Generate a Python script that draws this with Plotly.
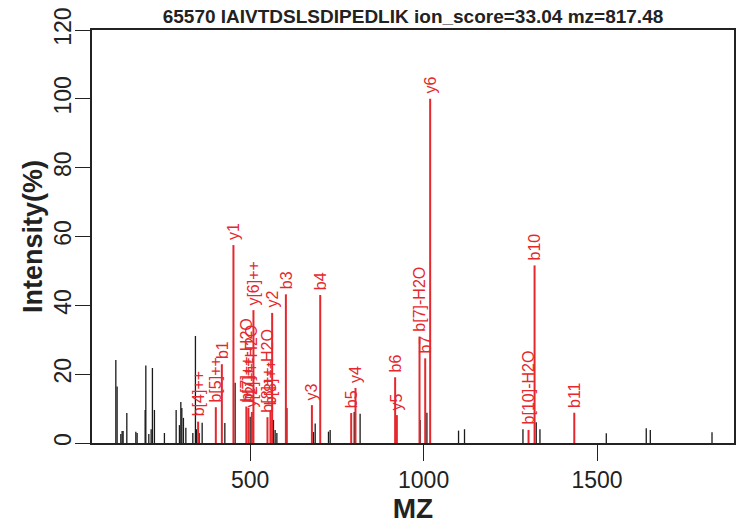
import plotly.graph_objects as go

# ---- data ----
title_text = "65570 IAIVTDSLSDIPEDLIK ion_score=33.04 mz=817.48"

black_mz = [112.7, 116.4, 127.1, 130.8, 133.7, 144.4, 170.4, 174.1, 197.2, 199.2,
            207.8, 214.5, 218.2, 224.0, 252.8, 286.6, 296.1, 300.1, 303.0, 307.6,
            314.6, 334.7, 342.2, 345.0, 352.9, 361.6, 427.0, 456.7, 500.0, 567.2,
            572.0, 577.0, 606.0, 682.6, 687.5, 725.8, 730.7, 800.0, 817.0, 990.0,
            1009.6, 1100.8, 1118.0, 1286.5, 1324.8, 1335.5, 1526.8, 1642.0,
            1653.7, 1831.6]
black_int = [24.1, 16.4, 2.6, 3.5, 3.5, 8.7, 3.3, 2.9, 9.6, 22.5,
             2.6, 4.0, 21.8, 9.6, 2.9, 9.6, 5.2, 11.9, 10.2, 7.3,
             4.4, 2.9, 31.1, 4.0, 2.9, 5.9, 5.8, 17.5, 7.6, 6.7,
             3.8, 2.9, 10.2, 3.2, 5.7, 3.3, 3.8, 9.0, 8.5, 6.7,
             8.8, 3.6, 4.0, 4.0, 6.0, 4.0, 2.8, 4.3,
             3.8, 3.1]

red_mz = [350.0, 401.0, 418.4, 451.8, 489.0, 495.0, 505.0, 509.5, 549.9, 558.5,
          563.4, 603.0, 678.0, 702.0, 791.3, 803.7, 918.0, 923.0, 988.3, 1004.7,
          1019.0, 1302.6, 1320.0, 1434.5]
red_int = [6.2, 10.4, 22.9, 57.5, 10.6, 10.2, 9.0, 38.6, 7.5, 9.5,
           37.8, 43.2, 11.0, 43.0, 8.7, 16.0, 19.1, 8.1, 30.9, 24.6,
           100.0, 3.8, 51.6, 8.8]
red_lab = ["b[4]++", "b[5]++", "b1", "y1", "b[7]++-H2O", "b[7]++", "y[2]++-H2O", "y[6]++",
           "b[8]++-H2O", "b[8]++", "y2", "b3", "y3", "b4", "b5", "y4", "b6", "y5",
           "b[7]-H2O", "b7", "y6", "b[10]-H2O", "b10", "b11"]

x_ticks = [500, 1000, 1500]
y_ticks = [0, 20, 40, 60, 80, 100, 120]

RED = "#E5282D"
INK = "#222222"
FONT = "Liberation Sans, Arial, Helvetica, sans-serif"

# the page body has an 8px default margin, so the figure is drawn 8px in
W, H = 738, 519


def sticks(mz, inten):
    xs, ys = [], []
    for m, v in zip(mz, inten):
        xs += [m, m, None]
        ys += [0, v, None]
    return xs, ys


fig = go.Figure()
bx, by = sticks(black_mz, black_int)
fig.add_trace(go.Scatter(x=bx, y=by, mode="lines",
                         line=dict(color="#1a1a1a", width=1.3),
                         hoverinfo="skip", showlegend=False))
rx, ry = sticks(red_mz, red_int)
fig.add_trace(go.Scatter(x=rx, y=ry, mode="lines",
                         line=dict(color=RED, width=2),
                         hoverinfo="skip", showlegend=False))

for m, v, t in zip(red_mz, red_int, red_lab):
    fig.add_annotation(x=m, y=v, text=t, textangle=-90, showarrow=False,
                       xanchor="center", yanchor="bottom", yshift=3,
                       font=dict(family=FONT, size=16, color=RED))

fig.update_layout(
    width=W, height=H,
    margin=dict(l=84, r=12, t=22, b=84, autoexpand=False),
    paper_bgcolor="white", plot_bgcolor="white",
    font=dict(family=FONT, color=INK),
    title=dict(text="<b>" + title_text + "</b>", x=405 / W, xanchor="center",
               y=1, yanchor="top", pad=dict(t=2, b=0),
               font=dict(family=FONT, size=19, color=INK)),
    xaxis=dict(range=[44, 1895], tickvals=x_ticks, ticks="outside", ticklen=16,
               tickwidth=1.3, tickcolor=INK, showgrid=False, zeroline=False,
               showline=True, linecolor=INK, linewidth=1.5, mirror=True,
               automargin=False, ticklabeloverflow="allow",
               tickfont=dict(size=23, color=INK),
               title=dict(text="<b>MZ</b>", font=dict(size=28, color=INK), standoff=4)),
    yaxis=dict(range=[0, 120], tickvals=y_ticks, ticks="outside", ticklen=15,
               tickwidth=1.3, tickcolor=INK, showgrid=False, zeroline=False,
               showline=True, linecolor=INK, linewidth=1.5, mirror=True,
               automargin=False, ticklabelstandoff=-5, ticklabeloverflow="allow",
               tickangle=-90, tickfont=dict(size=23, color=INK),
               title=dict(text="<b>Intensity(%)</b>", font=dict(size=27, color=INK),
                          standoff=0)),
)

fig.write_html("out.html")
